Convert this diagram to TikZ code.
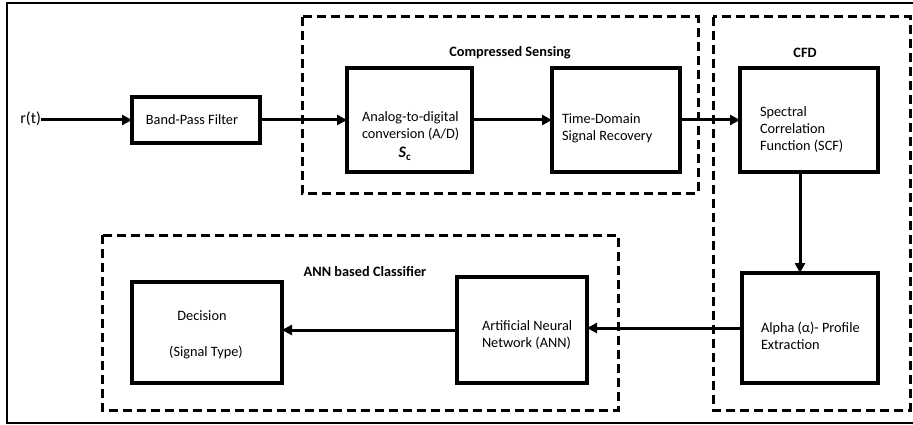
\documentclass[tikz,border=0pt]{standalone}
\usepackage{fontspec}
\setmainfont{Carlito}
\usetikzlibrary{arrows.meta,positioning}
\begin{document}
\begin{tikzpicture}[x=1pt,y=-1pt,
  every node/.style={font=\fontsize{14.3}{17}\selectfont, inner sep=0pt, outer sep=0pt},
  blk/.style={draw, line width=4.5pt, rectangle, minimum width=#1},
  lbl/.style={align=left, anchor=west},
  grp/.style={draw, line width=3pt, dash pattern=on 9pt off 5pt},
  ttl/.style={font=\fontsize{14.3}{17}\selectfont\bfseries},
  arr/.style={line width=3pt, -{Triangle[length=10pt,width=10pt]}}]
\useasboundingbox (0,0) rectangle (913,425);
% outer frame
\draw[line width=2pt] (913,3) -- (7,3) -- (7,423) -- (913,423);
% group boxes
\draw[grp] (302,17) rectangle (698,193);
\draw[grp] (713,17) rectangle (910,410);
\draw[grp] (102,235) rectangle (618,410);
\node[ttl] (tcs) at (510,53) {Compressed Sensing};
\node[ttl] (tcfd) at (805,53) {CFD};
\node[ttl] (tann) at (365,272) {ANN based Classifier};
% blocks
\node[blk=128pt, minimum height=46pt] (bpf) at (196,120) {};
\node[blk=125pt, minimum height=104pt] (ad) at (409.5,120) {};
\node[blk=128pt, minimum height=104pt] (td) at (616,120) {};
\node[blk=138pt, minimum height=104pt] (scf) at (809,120) {};
\node[blk=136pt, minimum height=110pt] (alpha) at (810,328) {};
\node[blk=130pt, minimum height=106pt] (ann) at (522,330) {};
\node[blk=150pt, minimum height=101pt] (dec) at (207,332.5) {};
% labels
\node[anchor=east, font=\fontsize{16}{18}\selectfont] (rt) at (41,119) {r(t)};
\node (lbpf) at (192,120) {Band-Pass Filter};
\node[lbl] (lad) at (362,126.5) {Analog-to-digital\\conversion (A/D)};
\node (lsc) at (405,154) {\fontsize{16}{18}\selectfont\textbf{\textit{S}\textsubscript{c}}};
\node[lbl] (ltd) at (562,128.5) {Time-Domain\\Signal Recovery};
\node[lbl] (lscf) at (760,130) {Spectral\\Correlation\\Function (SCF)};
\node[lbl] (lalpha) at (761,335.5) {Alpha (α)- Profile\\Extraction};
\node[lbl] (lann) at (482,335.5) {Artificial Neural\\Network (ANN)};
\node (ldec1) at (202,316) {Decision};
\node (ldec2) at (206,352) {(Signal Type)};
% arrows
\draw[arr] (rt.east |- bpf.west) -- (bpf.west);
\draw[arr] (bpf.east) -- (ad.west);
\draw[arr] (ad.east) -- (td.west);
\draw[arr] (td.east) -- (scf.west);
\draw[arr] ([xshift=-9pt]scf.south) -- ([xshift=-10pt]alpha.north);
\draw[arr] (alpha.west) -- (alpha.west -| ann.east);
\draw[arr] (ann.west) -- (ann.west -| dec.east);
\end{tikzpicture}
\end{document}
